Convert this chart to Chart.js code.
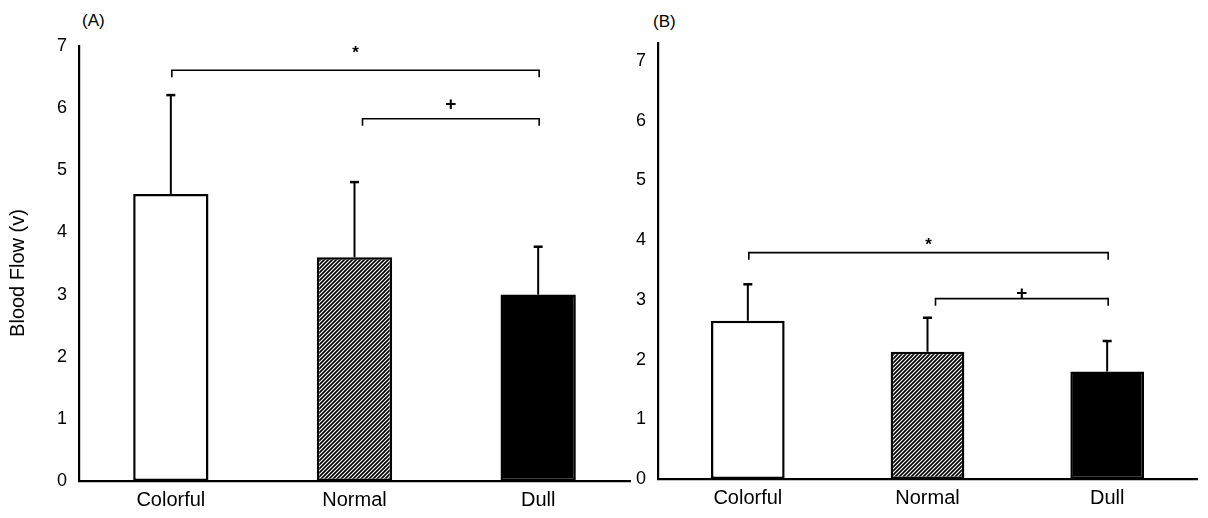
<!DOCTYPE html>
<html>
<head>
<meta charset="utf-8">
<script src="https://cdn.jsdelivr.net/npm/chart.js@4.4.1/dist/chart.umd.min.js"></script>
<style>
  html, body { margin: 0; padding: 0; background: #fff; }
  body { width: 1208px; height: 518px; position: relative; overflow: hidden; font-family: 'Liberation Sans', Arial, sans-serif; }
  .panel { position: absolute; top: 0; height: 518px; }
  #panelA { left: 0; width: 640px; }
  #panelB { left: 580px; width: 628px; }
  .tag { position: absolute; font-size: 17px; line-height: 17px; color: #000; }
</style>
</head>
<body>
<div class="tag" style="left:82px; top:12px;">(A)</div>
<div class="tag" style="left:653px; top:13px;">(B)</div>
<div class="panel" id="panelA"><canvas id="chartA"></canvas></div>
<div class="panel" id="panelB"><canvas id="chartB"></canvas></div>
<script>
const categories = ['Colorful', 'Normal', 'Dull'];
const yTicks = [0, 1, 2, 3, 4, 5, 6, 7];

// panel A (means and upper SD)
const meanA = [4.62, 3.60, 3.00];
const sdA = [1.59, 1.21, 0.77];
// panel B
const meanB = [2.65, 2.13, 1.80];
const sdB = [0.61, 0.57, 0.51];

// significance brackets: from/to category index, level in y units, sign and its height
const bracketsA = [
    { from: 0, to: 2, level: 6.61, sign: '*', signAt: 6.95 },
    { from: 1, to: 2, level: 5.83, sign: '+', signAt: 6.07 }
];
const bracketsB = [
    { from: 0, to: 2, level: 3.79, sign: '*', signAt: 3.97 },
    { from: 1, to: 2, level: 3.02, sign: '+', signAt: 3.12 }
];

const FONT = "'Liberation Sans', Arial, sans-serif";

function makeHatch() {
    const size = 4;
    const c = document.createElement('canvas');
    c.width = size;
    c.height = size;
    const g = c.getContext('2d');
    g.fillStyle = '#fff';
    g.fillRect(0, 0, size, size);
    g.strokeStyle = '#000';
    g.lineWidth = 1.7;
    g.beginPath();
    g.moveTo(0, size); g.lineTo(size, 0);
    g.moveTo(-1, 1); g.lineTo(1, -1);
    g.moveTo(size - 1, size + 1); g.lineTo(size + 1, size - 1);
    g.stroke();
    return g.createPattern(c, 'repeat');
}

const errorBars = {
    id: 'errorBars',
    afterDatasetsDraw(chart, args, opts) {
        const ctx = chart.ctx;
        const yScale = chart.scales.y;
        const meta = chart.getDatasetMeta(0);
        const means = chart.data.datasets[0].data;
        ctx.save();
        ctx.strokeStyle = '#000';
        meta.data.forEach((bar, i) => {
            const top = yScale.getPixelForValue(means[i] + opts.sd[i]);
            ctx.lineWidth = 2;
            ctx.beginPath();
            ctx.moveTo(bar.x, bar.y);
            ctx.lineTo(bar.x, top);
            ctx.stroke();
            ctx.lineWidth = 2.5;
            ctx.beginPath();
            ctx.moveTo(bar.x - 4.5, top);
            ctx.lineTo(bar.x + 4.5, top);
            ctx.stroke();
        });
        ctx.restore();
    }
};

const brackets = {
    id: 'brackets',
    afterDatasetsDraw(chart, args, opts) {
        const ctx = chart.ctx;
        const x = chart.scales.x;
        const y = chart.scales.y;
        ctx.save();
        ctx.strokeStyle = '#000';
        ctx.fillStyle = '#000';
        ctx.lineWidth = 1.6;
        opts.items.forEach((b, k) => {
            const x1 = x.getPixelForValue(b.from) + (opts.shift[k] || 0);
            const x2 = x.getPixelForValue(b.to) + 1;
            const yy = y.getPixelForValue(b.level);
            ctx.beginPath();
            ctx.moveTo(x1, yy + 7);
            ctx.lineTo(x1, yy);
            ctx.lineTo(x2, yy);
            ctx.lineTo(x2, yy + 7);
            ctx.stroke();
            const size = b.sign === '*' ? 17 : 19;
            ctx.font = 'bold ' + size + 'px ' + FONT;
            ctx.textAlign = 'center';
            ctx.textBaseline = 'alphabetic';
            const m = ctx.measureText(b.sign);
            const sy = y.getPixelForValue(b.signAt);
            ctx.fillText(b.sign, (x1 + x2) / 2, sy + (m.actualBoundingBoxAscent - m.actualBoundingBoxDescent) / 2);
        });
        ctx.restore();
    }
};

// y axis title drawn by hand so it sits where the reference puts it
const yTitle = {
    id: 'yTitle',
    afterDraw(chart, args, opts) {
        if (!opts.text) return;
        const ctx = chart.ctx;
        ctx.save();
        ctx.translate(opts.x, opts.y);
        ctx.rotate(-Math.PI / 2);
        ctx.font = '20px ' + FONT;
        ctx.fillStyle = '#000';
        ctx.textAlign = 'center';
        ctx.textBaseline = 'middle';
        ctx.fillText(opts.text, 0, 0);
        ctx.restore();
    }
};

function buildChart(id, means, sd, items, cfg) {
    const ctx = document.getElementById(id).getContext('2d');
    return new Chart(ctx, {
        type: 'bar',
        data: {
            labels: categories,
            datasets: [{
                data: means,
                backgroundColor: ['#fff', makeHatch(), '#000'],
                borderColor: '#000',
                borderWidth: 2.5,
                borderSkipped: false,
                barPercentage: 0.41,
                categoryPercentage: 1
            }]
        },
        options: {
            responsive: true,
            maintainAspectRatio: false,
            animation: false,
            layout: { padding: { top: cfg.top, right: cfg.right, bottom: 0, left: 0 } },
            scales: {
                x: {
                    grid: { display: false, drawTicks: false },
                    border: { display: true, color: '#000', width: 2.2 },
                    ticks: { color: '#000', padding: 7, font: { family: FONT, size: 20 } },
                    afterFit(scale) { scale.height = cfg.xHeight; }
                },
                y: {
                    min: 0,
                    max: cfg.max,
                    grid: { display: false, drawTicks: false },
                    border: { display: true, color: '#000', width: 2.2 },
                    ticks: { color: '#000', padding: 12, font: { family: FONT, size: 18 } },
                    afterBuildTicks(scale) { scale.ticks = yTicks.map(v => ({ value: v })); },
                    afterFit(scale) { scale.width = cfg.yWidth; }
                }
            },
            plugins: {
                legend: { display: false },
                tooltip: { enabled: false },
                errorBars: { sd: sd },
                brackets: { items: items, shift: [1, 8] },
                yTitle: { text: cfg.title, x: 18, y: 273 }
            }
        },
        plugins: [errorBars, brackets, yTitle]
    });
}

buildChart('chartA', meanA, sdA, bracketsA, { top: 46, right: 10, xHeight: 37, yWidth: 79, max: 7, title: 'Blood Flow (v)' });
buildChart('chartB', meanB, sdB, bracketsB, { top: 43, right: 11, xHeight: 39, yWidth: 78, max: 7.3, title: '' });
</script>
</body>
</html>
